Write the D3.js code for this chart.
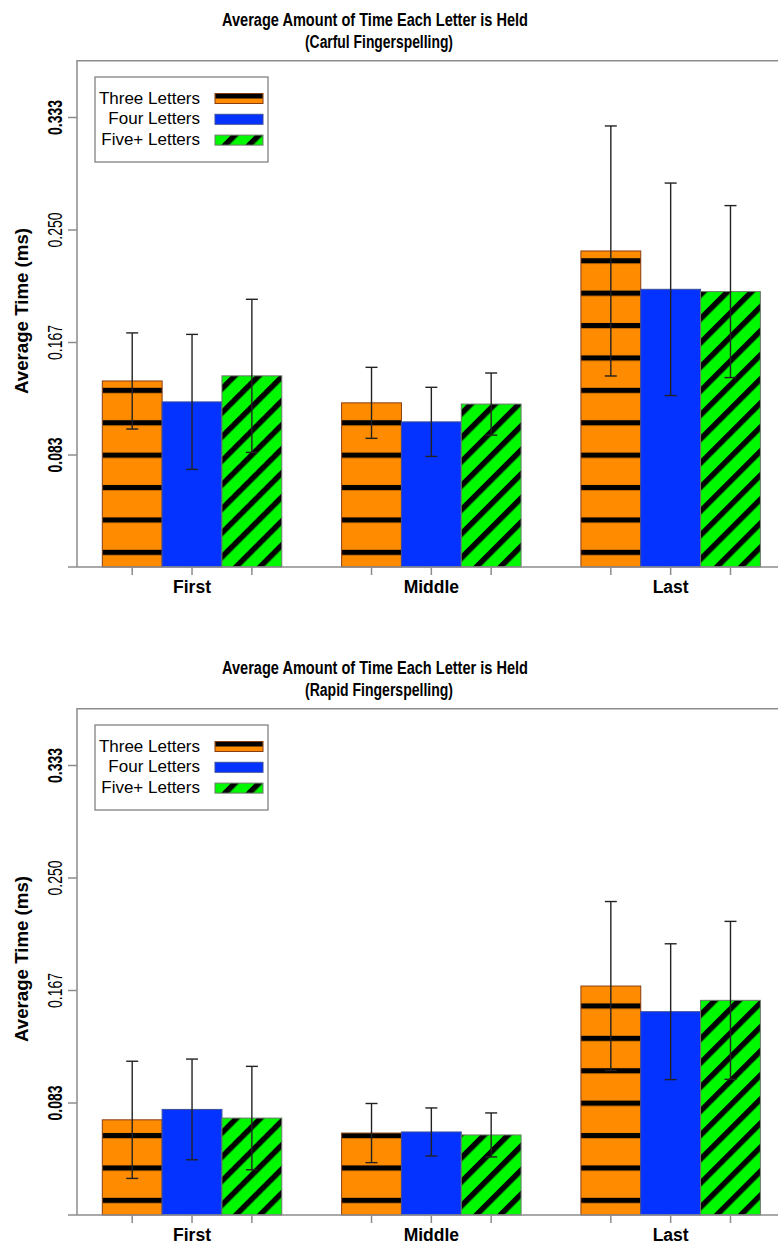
<!DOCTYPE html>
<html>
<head>
<meta charset="utf-8">
<script src="https://cdn.jsdelivr.net/npm/d3@7"></script>
<style>
  body { margin: 0; background: #fff; }
  svg { display: block; font-family: "Liberation Sans", Arial, sans-serif; }
</style>
</head>
<body>
<div id="chart"></div>
<script>
var groups = ["First", "Middle", "Last"];
var seriesNames = ["Three Letters", "Four Letters", "Five+ Letters"];
var yTicks = [1 / 12, 2 / 12, 3 / 12, 4 / 12];

// careful fingerspelling: bar heights and error bar half widths
var carefulThree = [0.1378, 0.1216, 0.2341];
var carefulFour = [0.1223, 0.1075, 0.2057];
var carefulFive = [0.1416, 0.1207, 0.2040];
var carefulThreeErr = [0.0356, 0.0263, 0.0926];
var carefulFourErr = [0.0500, 0.0256, 0.0787];
var carefulFiveErr = [0.0567, 0.0230, 0.0637];

// rapid fingerspelling
var rapidThree = [0.0705, 0.0607, 0.1696];
var rapidFour = [0.0782, 0.0615, 0.1506];
var rapidFive = [0.0718, 0.0593, 0.1590];
var rapidThreeErr = [0.0434, 0.0219, 0.0626];
var rapidFourErr = [0.0373, 0.0178, 0.0503];
var rapidFiveErr = [0.0383, 0.0163, 0.0585];

var panels = [
    { title: "(Carful Fingerspelling)", means: [carefulThree, carefulFour, carefulFive], errs: [carefulThreeErr, carefulFourErr, carefulFiveErr] },
    { title: "(Rapid Fingerspelling)", means: [rapidThree, rapidFour, rapidFive], errs: [rapidThreeErr, rapidFourErr, rapidFiveErr] }
];

var svgWidth = 778;
var svgHeight = 1249;
var panelOffset = 648;
var axisX = 77;
var baseY = 567;
var topY = 60.75;

var colors = ["#ff8c00", "#0433ff", "#00f800"];
var borders = ["#8a3d12", "#3b4f9a", "#6e7a6e"];

var svg = d3.select("#chart").append("svg")
    .attr("width", svgWidth)
    .attr("height", svgHeight);

var defs = svg.append("defs");

var x0 = d3.scaleBand().domain(groups).range([102.3, 760.4]).paddingInner(0.25).paddingOuter(0);
var x1 = d3.scaleBand().domain(seriesNames).range([0, x0.bandwidth()]);
var y = d3.scaleLinear().domain([0, 0.375]).range([baseY, topY]);

panels.forEach(function(p, pi) {
    var dy = pi * panelOffset;

    // horizontal stripes anchored on the baseline
    var hp = defs.append("pattern")
        .attr("id", "hstripe" + pi)
        .attr("patternUnits", "userSpaceOnUse")
        .attr("x", 0).attr("y", baseY + dy + 1.5)
        .attr("width", 60).attr("height", 32.4);
    hp.append("rect").attr("width", 60).attr("height", 32.4).attr("fill", colors[0]);
    hp.append("rect").attr("y", 13.7).attr("width", 60).attr("height", 5.2).attr("fill", "#000");

    var dp = defs.append("pattern")
        .attr("id", "dstripe" + pi)
        .attr("patternUnits", "userSpaceOnUse")
        .attr("x", 4).attr("y", baseY + dy)
        .attr("width", 17).attr("height", 17)
        .attr("patternTransform", "rotate(45)");
    dp.append("rect").attr("width", 17).attr("height", 17).attr("fill", colors[2]);
    dp.append("rect").attr("width", 5.5).attr("height", 17).attr("fill", "#000");

    var fills = ["url(#hstripe" + pi + ")", colors[1], "url(#dstripe" + pi + ")"];

    var g = svg.append("g").attr("transform", "translate(0," + dy + ")");

    // narrow-looking title: tall glyphs squeezed to the measured width
    g.append("text")
        .attr("x", 375).attr("y", 26)
        .attr("text-anchor", "middle")
        .attr("font-size", 17.5).attr("font-weight", "bold")
        .attr("textLength", 306).attr("lengthAdjust", "spacingAndGlyphs")
        .text("Average Amount of Time Each Letter is Held");
    g.append("text")
        .attr("x", 379).attr("y", 48)
        .attr("text-anchor", "middle")
        .attr("font-size", 17.5).attr("font-weight", "bold")
        .attr("textLength", 148).attr("lengthAdjust", "spacingAndGlyphs")
        .text(p.title);

    // bars
    var bars = [];
    p.means.forEach(function(vals, si) {
        vals.forEach(function(v, gi) {
            bars.push({ g: groups[gi], s: si, v: v, e: p.errs[si][gi] });
        });
    });

    g.selectAll("rect.bar").data(bars).enter().append("rect")
        .attr("class", "bar")
        .attr("x", function(d) { return x0(d.g) + x1(seriesNames[d.s]); })
        .attr("width", x1.bandwidth())
        .attr("y", function(d) { return y(d.v); })
        .attr("height", function(d) { return baseY - y(d.v); })
        .attr("fill", function(d) { return fills[d.s]; })
        .attr("stroke", function(d) { return borders[d.s]; })
        .attr("stroke-width", 1);

    // frame and axes
    g.append("path")
        .attr("d", "M" + axisX + "," + baseY + "V" + topY + "H" + svgWidth)
        .attr("fill", "none").attr("stroke", "#8c8c8c").attr("stroke-width", 1.5);
    g.append("line")
        .attr("x1", 68).attr("x2", svgWidth)
        .attr("y1", baseY).attr("y2", baseY)
        .attr("stroke", "#8c8c8c").attr("stroke-width", 1.5);

    var yAxis = g.append("g")
        .attr("transform", "translate(" + axisX + ",0)")
        .call(d3.axisLeft(y).tickValues(yTicks).tickSize(9).tickFormat(d3.format(".3f")));
    yAxis.select(".domain").remove();
    yAxis.selectAll(".tick line").attr("stroke", "#8c8c8c").attr("stroke-width", 1.5);
    yAxis.selectAll(".tick text")
        .attr("transform", "rotate(-90)")
        .attr("x", 0).attr("y", -15).attr("dy", 0)
        .attr("text-anchor", "middle")
        .attr("fill", "#000")
        .attr("font-family", "Liberation Sans, Arial, sans-serif")
        .attr("font-size", 19.5)
        .attr("textLength", 35).attr("lengthAdjust", "spacingAndGlyphs")
        .attr("font-weight", function(d, i) { return (i == 0 || i == 3) ? "bold" : "normal"; });

    g.append("text")
        .attr("transform", "translate(28,311) rotate(-90)")
        .attr("text-anchor", "middle")
        .attr("font-size", 18.5).attr("font-weight", "bold")
        .attr("textLength", 166).attr("lengthAdjust", "spacingAndGlyphs")
        .text("Average Time (ms)");

    // x ticks at bar centres, labels at group centres
    g.selectAll("line.xtick").data(bars).enter().append("line")
        .attr("class", "xtick")
        .attr("x1", function(d) { return x0(d.g) + x1(seriesNames[d.s]) + x1.bandwidth() / 2; })
        .attr("x2", function(d) { return x0(d.g) + x1(seriesNames[d.s]) + x1.bandwidth() / 2; })
        .attr("y1", baseY).attr("y2", baseY + 8)
        .attr("stroke", "#8c8c8c").attr("stroke-width", 1.5);

    g.selectAll("text.xlab").data(groups).enter().append("text")
        .attr("class", "xlab")
        .attr("x", function(d) { return x0(d) + x0.bandwidth() / 2; })
        .attr("y", 593)
        .attr("text-anchor", "middle")
        .attr("font-size", 17.5).attr("font-weight", "bold")
        .text(function(d) { return d; });

    // error bars
    var eb = g.selectAll("g.err").data(bars).enter().append("g")
        .attr("class", "err")
        .attr("transform", function(d) { return "translate(" + (x0(d.g) + x1(seriesNames[d.s]) + x1.bandwidth() / 2) + ",0)"; });
    eb.append("line")
        .attr("y1", function(d) { return y(d.v + d.e); })
        .attr("y2", function(d) { return y(d.v - d.e); })
        .attr("stroke", "#222").attr("stroke-width", 1.4);
    eb.append("line")
        .attr("x1", -6).attr("x2", 6)
        .attr("y1", function(d) { return y(d.v + d.e); })
        .attr("y2", function(d) { return y(d.v + d.e); })
        .attr("stroke", "#222").attr("stroke-width", 1.4);
    eb.append("line")
        .attr("x1", -6).attr("x2", 6)
        .attr("y1", function(d) { return y(d.v - d.e); })
        .attr("y2", function(d) { return y(d.v - d.e); })
        .attr("stroke", "#222").attr("stroke-width", 1.4);

    // legend
    var leg = g.append("g");
    leg.append("rect")
        .attr("x", 95).attr("y", 77).attr("width", 173).attr("height", 85)
        .attr("fill", "#fff").attr("stroke", "#777").attr("stroke-width", 1.2);
    seriesNames.forEach(function(name, si) {
        var by = 103.5 + si * 20.8;
        leg.append("text")
            .attr("x", 200).attr("y", by)
            .attr("text-anchor", "end")
            .attr("font-size", 17)
            .text(name);
        leg.append("rect")
            .attr("x", 215).attr("y", by - 10).attr("width", 48).attr("height", 10)
            .attr("fill", si == 0 ? colors[0] : (si == 1 ? colors[1] : "url(#dstripe" + pi + ")"))
            .attr("stroke", borders[si]).attr("stroke-width", 1);
        if (si == 0) {
            leg.append("rect")
                .attr("x", 215.5).attr("y", by - 9.5).attr("width", 47).attr("height", 4.5)
                .attr("fill", "#000");
        }
    });
});
</script>
</body>
</html>
